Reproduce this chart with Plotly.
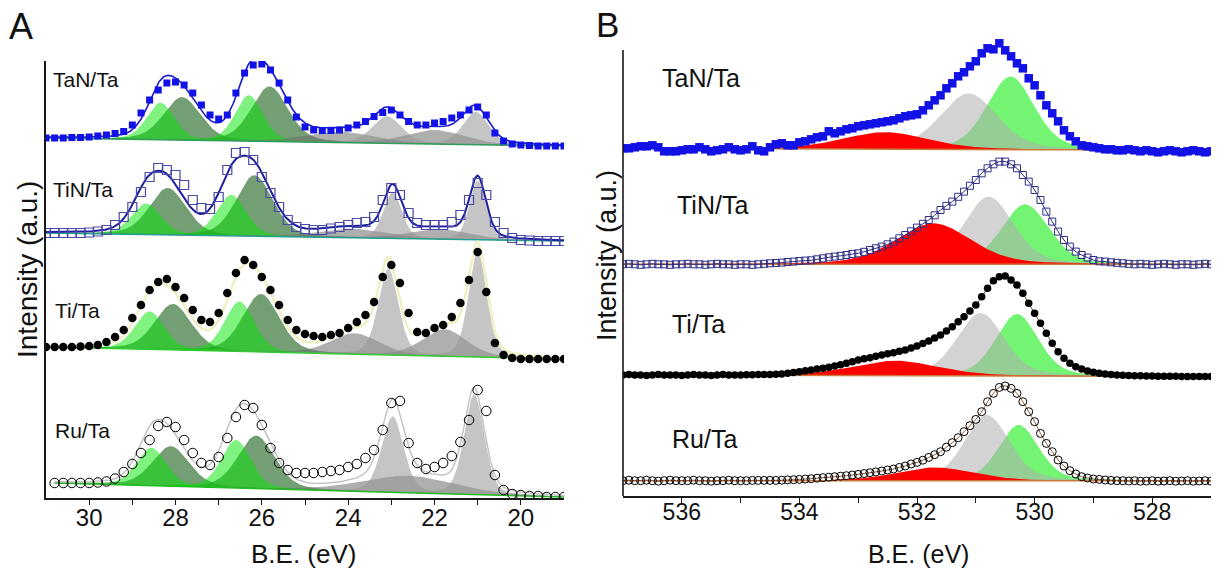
import numpy as np
import plotly.graph_objects as go

# ===================== DATA =====================
# Panel A : binding energy grid (eV) and measured intensities (a.u., relative to each trace's own left baseline)
A_BE = [31.0, 30.8, 30.6, 30.4, 30.2, 30.0, 29.8, 29.6, 29.4, 29.2,
        29.0, 28.8, 28.6, 28.4, 28.2, 28.0, 27.8, 27.6, 27.4, 27.2,
        27.0, 26.8, 26.6, 26.4, 26.2, 26.0, 25.8, 25.6, 25.4, 25.2,
        25.0, 24.8, 24.6, 24.4, 24.2, 24.0, 23.8, 23.6, 23.4, 23.2,
        23.0, 22.8, 22.6, 22.4, 22.2, 22.0, 21.8, 21.6, 21.4, 21.2,
        21.0, 20.8, 20.6, 20.4, 20.2, 20.0, 19.8, 19.6, 19.4, 19.2,
        19.0]

A_TAN = [0, 0, 0, 0.5, 0.5, 1, 2, 3, 4.5, 6.5,
         13, 25, 38, 48, 55, 56, 53, 45, 33, 23,
         19, 23, 45, 65, 73, 74, 68, 55, 38, 21,
         11, 8, 7.5, 7.5, 8, 10, 13, 16.5, 21.5, 25.5,
         28, 23, 16.5, 13, 13, 15, 16.5, 20, 23, 28,
         31, 23, 5, -3, -6, -7, -7.5, -8, -8, -8,
         -8]
A_TIN = [0, 0, 0, 0, 0, 0.5, 1.5, 3, 8, 16,
         26, 41, 56, 65, 63, 58, 48, 33, 25, 24,
         36, 63, 80, 81, 73, 56, 40, 26, 13, 6,
         4, 3, 3, 4.5, 6, 8, 10, 11, 16, 33,
         45, 38, 20, 10, 8, 8, 8, 11, 18, 33,
         50, 38, 11, 0, -5, -7, -7.5, -8, -8, -8,
         -8]
A_TI = [0, 0, 0, 0, 0.5, 1, 2, 5, 10, 17,
        29, 42, 57, 65, 68, 60, 49, 37, 27, 25,
        34, 54, 74, 87, 82, 70, 57, 42, 27, 17,
        13, 11, 10, 12, 14, 19, 25, 32, 45, 70,
        82, 64, 34, 15, 14, 19, 22, 30, 44, 67,
        95, 55, 4, -8, -11, -12, -12, -12, -12, -12,
        -12]
A_RU = [None, 0, 0, 0, 0, 0, 0.5, 1.5, 4.5, 11,
        19, 30, 43, 57, 61, 56, 43, 30, 20, 18,
        26, 45, 66, 78, 75, 58, 35, 20, 13, 10,
        10, 10, 11, 12, 13, 16, 19, 25, 33, 53,
        80, 82, 40, 20, 14, 16, 20, 27, 41, 63,
        93, 72, 8, -7, -11, -12, -13, -13, -14, -14,
        -14]

A_SAMPLES = ["TaN/Ta", "TiN/Ta", "Ti/Ta", "Ru/Ta"]
A_OFFSET = [360, 265, 151, 15]          # vertical stacking offsets (a.u.)
A_BG_DROP = [8, 8, 12, 14]              # linear background decrease across the scan (a.u.)

# fitted components: [kind, centre (eV), height (a.u.), FWHM (eV)]
A_TAN_PEAKS = [["dark", 27.85, 43, 1.0], ["dark", 25.82, 55, 1.0],
               ["light", 28.35, 37, 0.75], ["light", 26.30, 46, 0.75],
               ["dgray", 24.2, 11, 1.8], ["dgray", 22.0, 14, 1.6],
               ["lgray", 23.1, 27, 0.8], ["lgray", 21.05, 33, 0.7]]
A_TIN_PEAKS = [["dark", 28.18, 47, 1.0], ["dark", 26.17, 61, 1.0],
               ["light", 28.68, 31, 0.8], ["light", 26.71, 41, 0.8],
               ["dgray", 23.9, 9, 1.8], ["dgray", 21.9, 10, 1.6],
               ["lgray", 22.97, 46, 0.5], ["lgray", 21.0, 59, 0.45]]
A_TI_PEAKS = [["dark", 28.06, 46, 1.0], ["dark", 26.02, 58, 1.0],
              ["light", 28.60, 38, 0.8], ["light", 26.52, 50, 0.8],
              ["dgray", 23.85, 21, 1.3], ["dgray", 21.77, 27, 1.2],
              ["lgray", 23.07, 86, 0.55], ["lgray", 21.0, 105, 0.5]]
A_RU_PEAKS = [["dark", 28.11, 40, 1.0], ["dark", 26.13, 53, 1.0],
              ["light", 28.56, 38, 0.8], ["light", 26.60, 48, 0.8],
              ["dgray", 22.62, 17, 2.5],
              ["lgray", 22.97, 76, 0.6], ["lgray", 21.08, 100, 0.55]]

# Panel B : O 1s region
B_BE = [537.0, 536.9, 536.8, 536.7, 536.6, 536.5, 536.4, 536.3, 536.2, 536.1,
        536.0, 535.9, 535.8, 535.7, 535.6, 535.5, 535.4, 535.3, 535.2, 535.1,
        535.0, 534.9, 534.8, 534.7, 534.6, 534.5, 534.4, 534.3, 534.2, 534.1,
        534.0, 533.9, 533.8, 533.7, 533.6, 533.5, 533.4, 533.3, 533.2, 533.1,
        533.0, 532.9, 532.8, 532.7, 532.6, 532.5, 532.4, 532.3, 532.2, 532.1,
        532.0, 531.9, 531.8, 531.7, 531.6, 531.5, 531.4, 531.3, 531.2, 531.1,
        531.0, 530.9, 530.8, 530.7, 530.6, 530.5, 530.4, 530.3, 530.2, 530.1,
        530.0, 529.9, 529.8, 529.7, 529.6, 529.5, 529.4, 529.3, 529.2, 529.1,
        529.0, 528.9, 528.8, 528.7, 528.6, 528.5, 528.4, 528.3, 528.2, 528.1,
        528.0, 527.9, 527.8, 527.7, 527.6, 527.5, 527.4, 527.3, 527.2, 527.1,
        527.0]

B_TAN = [0, 0, 1, 2, 2, 3, 1, -3, -3, -3,
         -2, -1, -1, 1, -1, -3, -2, -1, 1, -1,
         -2, -1, 2, -2, -3, 1, 4, 5, 3, 3,
         6, 7, 9, 11, 12, 17, 15, 17, 19, 20,
         22, 23, 24, 25, 26, 27, 28, 30, 32, 33,
         34, 38, 43, 48, 53, 60, 65, 72, 76, 82,
         87, 95, 100, 99, 105, 98, 92, 85, 80, 70,
         63, 53, 43, 35, 27, 18, 12, 7, 3, 2,
         1, 0, -1, -1, -2, -2, -1, -2, -3, -2,
         -3, -4, -3, -2, -3, -4, -3, -2, -3, -4,
         -3]
B_TIN = [0, 0.5, 0, -0.5, 0, 0.5, 0, 0, -0.5, 0,
         0, 0.5, 0, 0, -0.5, 0, 0.5, 0, 0, -0.5,
         0, 0, -0.5, 0, 0.5, 1, 1.3, 1.7, 2.3, 2.7,
         3.3, 3.7, 4, 5, 6, 7, 7.7, 8.5, 9.3, 10.3,
         11, 12.5, 14.3, 16, 17.7, 20, 22.7, 26, 29.3, 33,
         36.7, 40.5, 44.3, 49, 54.3, 58.5, 62.7, 67.5, 72.7, 78.5,
         84.3, 91, 96, 100, 102.7, 102.7, 100, 96, 89.3, 82.7,
         74.3, 64.3, 52.7, 42.7, 32.7, 24.3, 17.7, 12.7, 9.3, 6.7,
         4.3, 3, 2.7, 2, 1.5, 1, 0.5, 0, 0.5, 0,
         -0.5, 0, 0.5, 0, -0.5, 0, 0, -0.5, 0, 0.5,
         0]
B_TI = [0, 0.5, 0, 0, -0.5, 0, 0.5, 0, 0, 0,
        -0.5, 0, 0.5, 0, 0, -0.5, 0, 0.5, 0, 0,
        0, 0.3, 0.3, 0.5, 0.5, 0.5, 0.7, 1, 1.7, 2.5,
        3.3, 4.2, 5, 6, 6.7, 7.8, 9, 10.3, 11.7, 13.3,
        15, 16.2, 17.3, 18.7, 20, 21.2, 22.3, 23.7, 25, 27,
        29, 31.5, 34, 37, 40, 44, 48.3, 53.3, 58.3, 64,
        70, 78.3, 86.7, 94.3, 98.3, 99, 95, 90, 81.7, 71.7,
        61.7, 51.7, 41.7, 31.7, 23.3, 16.7, 11.7, 8.3, 6, 4,
        2.7, 1.7, 1, 0.5, 0, -0.3, -0.5, -0.7, -0.8, -1,
        -1, -1.2, -1.2, -1.3, -1.3, -1.4, -1.5, -1.5, -1.5, -1.6,
        -1.6]
B_RU = [0, 0.5, 0, 0, 0.5, 0, -0.5, 0, 0.5, 0,
        0, 0, 0.5, 0, 0, -0.5, 0, 0, 0.5, 0,
        0, 0, 0.3, 0.3, 0.3, 0.3, 0.3, 0.5, 0.8, 1,
        1.3, 1.7, 2, 2.5, 3, 3.5, 4, 4.5, 5, 5.7,
        6.3, 7.2, 8, 8.8, 9.7, 10.7, 11.7, 13.3, 14.7, 16.7,
        18.3, 20.5, 23.3, 26, 29, 33.5, 38, 43, 49, 55,
        61.3, 69, 79, 87.3, 93.3, 94.7, 92.3, 87.3, 79, 69,
        59, 47.3, 37.3, 29, 20.7, 14.7, 10, 6.7, 4, 2.7,
        1.7, 1.3, 0.7, 0.3, 0, 0, -0.3, 0, -0.5, -0.3,
        0, -0.5, -0.3, 0, -0.5, -0.3, 0, -0.5, -0.3, 0,
        -0.5]

B_SAMPLES = ["TaN/Ta", "TiN/Ta", "Ti/Ta", "Ru/Ta"]
B_OFFSET = [347.7, 231.7, 121, 15.3]
B_BG_DROP = [2, 0, 1.5, 0]

B_TAN_PEAKS = [["green", 530.41, 73, 0.95], ["gray", 531.12, 56, 1.15], ["red", 532.54, 17, 1.7]]
B_TIN_PEAKS = [["green", 530.16, 60, 0.95], ["gray", 530.78, 67.6, 1.0], ["red", 531.72, 41, 1.5]]
B_TI_PEAKS = [["green", 530.30, 62, 0.85], ["gray", 530.92, 63, 0.95], ["red", 532.37, 15, 1.7]]
B_RU_PEAKS = [["green", 530.27, 55.7, 0.8], ["gray", 530.81, 65.7, 0.9], ["red", 531.69, 13.3, 1.5]]

# ===================== STYLE =====================
W, H = 1217, 574
FONT = "Liberation Sans, Arial, Helvetica, sans-serif"


def px(x):
    return x / W


def py(y):
    return 1 - y / H


FILL = {
    "dark": "rgba(70,125,70,0.75)",
    "light": "rgba(0,230,0,0.5)",
    "dgray": "rgba(110,110,110,0.55)",
    "lgray": "rgba(150,150,150,0.55)",
    "green": "rgba(0,235,0,0.55)",
    "gray": "rgba(175,175,175,0.55)",
    "red": "rgba(255,0,0,1)",
}

A_MARKERS = [
    dict(symbol="square", size=7, color="#1212e6"),
    dict(symbol="square-open", size=9, color="#4a4aa8", line=dict(width=1.2, color="#4a4aa8")),
    dict(symbol="circle", size=8.5, color="#000000"),
    dict(symbol="circle-open", size=9.5, color="#000000", line=dict(width=1, color="#000000")),
]
A_FITLINE = [dict(color="#1c1cc8", width=1.6), dict(color="#1f1fa0", width=2),
             dict(color="#f0f0c4", width=2.5), dict(color="#c4c4c4", width=1.5)]
A_BASELINE = ["#2e9e5a", "#22a090", "#33cc33", "#22bb22"]

B_MARKERS = [
    dict(symbol="square", size=8.5, color="#1212e6"),
    dict(symbol="square-open", size=7, color="#303088", line=dict(width=1, color="#303088")),
    dict(symbol="circle", size=7.5, color="#000000"),
    dict(symbol="circle-open", size=8, color="#000000", line=dict(width=1, color="#000000")),
]
B_FITLINE = ["#b06a8a", "#2b2b7a", "#6a4a2a", "#8a5a3a"]


def pv(x, c, h, w, eta=0.3):
    u = (x - c) / w
    return h * ((1 - eta) * np.exp(-4 * np.log(2) * u ** 2) + eta / (1 + 4 * u ** 2))


fig = go.Figure()


def add_spectrum(be, vals, offset, drop, peaks, xa, ya, x_end, marker, fitline, basecol, data_line=None, eta=0.3):
    be = np.array(be, dtype=float)
    valid = [i for i, v in enumerate(vals) if v is not None]
    x0 = be[valid[0]]
    grid = np.linspace(x0, x_end, 801)
    bg = offset - drop * (x0 - grid) / (x0 - x_end)
    total = np.zeros_like(grid)
    for kind, c, h, w in peaks:
        comp = pv(grid, c, h, w, eta)
        total += comp
        xs = np.concatenate([grid, grid[::-1]])
        ys = np.concatenate([bg + comp, bg[::-1]])
        fig.add_trace(go.Scatter(x=xs, y=ys, mode="lines", fill="toself", fillcolor=FILL[kind],
                                 line=dict(width=0), xaxis=xa, yaxis=ya, hoverinfo="skip"))
    fig.add_trace(go.Scatter(x=grid, y=bg, mode="lines", line=dict(color=basecol, width=1.5),
                             xaxis=xa, yaxis=ya, hoverinfo="skip"))
    yd = [None if v is None else offset + v for v in vals]
    if data_line is None:
        fig.add_trace(go.Scatter(x=grid, y=bg + total, mode="lines", line=fitline,
                                 xaxis=xa, yaxis=ya, hoverinfo="skip"))
    else:
        fig.add_trace(go.Scatter(x=be, y=yd, mode="lines", line=dict(color=data_line, width=1, shape="spline"),
                                 xaxis=xa, yaxis=ya, hoverinfo="skip"))
    fig.add_trace(go.Scatter(x=be, y=yd, mode="markers", marker=marker, xaxis=xa, yaxis=ya))


A_DATA = [A_TAN, A_TIN, A_TI, A_RU]
A_PEAKS = [A_TAN_PEAKS, A_TIN_PEAKS, A_TI_PEAKS, A_RU_PEAKS]
for i in range(4):
    add_spectrum(A_BE, A_DATA[i], A_OFFSET[i], A_BG_DROP[i], A_PEAKS[i], "x", "y", 19.0,
                 A_MARKERS[i], A_FITLINE[i], A_BASELINE[i])

B_DATA = [B_TAN, B_TIN, B_TI, B_RU]
B_PEAKS = [B_TAN_PEAKS, B_TIN_PEAKS, B_TI_PEAKS, B_RU_PEAKS]
for i in range(4):
    add_spectrum(B_BE, B_DATA[i], B_OFFSET[i], B_BG_DROP[i], B_PEAKS[i], "x2", "y2", 527.0,
                 B_MARKERS[i], None, "#cc7a3a", data_line=B_FITLINE[i])

axis_common = dict(showgrid=False, zeroline=False, showline=True, linecolor="#1a1a1a", linewidth=1.6,
                   ticks="outside", ticklen=5, tickwidth=1.2, tickcolor="#1a1a1a")

# panel B plot area reaches a little above its drawn y-axis line so the tallest points are not clipped
B_TOP_AXIS, B_TOP_AREA, B_BOTTOM = 50, 35, 496

fig.update_layout(
    width=W, height=H, margin=dict(l=0, r=0, t=0, b=0),
    paper_bgcolor="white", plot_bgcolor="rgba(0,0,0,0)", showlegend=False,
    font=dict(family=FONT, color="#111111"),
    xaxis=dict(domain=[px(46), px(564)], range=[31, 19], anchor="y",
               tickvals=[30, 28, 26, 24, 22, 20], tickfont=dict(size=24, family=FONT, color="#111"),
               ticklabelstandoff=-8,
               minor=dict(tickvals=[29, 27, 25, 23, 21], ticks="outside", ticklen=5, tickcolor="#1a1a1a"),
               **axis_common),
    yaxis=dict(domain=[py(498), py(61)], range=[0, 437], anchor="x", showticklabels=False,
               showgrid=False, zeroline=False, showline=True, linecolor="#1a1a1a", linewidth=1.6, ticks=""),
    xaxis2=dict(domain=[px(623), px(1211)], range=[537, 527], anchor="y2",
                tickvals=[536, 534, 532, 530, 528], tickfont=dict(size=23, family=FONT, color="#111"),
                ticklabelstandoff=-10,
                minor=dict(tickvals=[535, 533, 531, 529], ticks="outside", ticklen=5, tickcolor="#1a1a1a"),
                **axis_common),
    yaxis2=dict(domain=[py(B_BOTTOM), py(B_TOP_AREA)], range=[0, B_BOTTOM - B_TOP_AREA], anchor="x2",
                showticklabels=False, showgrid=False, zeroline=False, showline=False, ticks=""),
    shapes=[dict(type="line", xref="paper", yref="paper", x0=px(623), x1=px(623),
                 y0=py(B_BOTTOM), y1=py(B_TOP_AXIS), line=dict(color="#1a1a1a", width=1.6))],
)

ann = []


def text(t, x, y, size, xanchor="center", angle=0):
    ann.append(dict(text=t, x=px(x), y=py(y), xref="paper", yref="paper", showarrow=False,
                    xanchor=xanchor, yanchor="middle", textangle=angle,
                    font=dict(size=size, family=FONT, color="#111111")))


text("A", 21, 27, 36)
text("B", 607, 25, 35)
text("Intensity (a.u.)", 27, 270, 28, angle=-90)
text("Intensity (a.u.)", 607, 256, 27, angle=-90)
text("B.E. (eV)", 303, 554, 26)
text("B.E. (eV)", 918, 554, 25)

A_LABEL_POS = [(51, 80), (51, 189.5), (53, 310.5), (53, 430)]
for lab, (x, y) in zip(A_SAMPLES, A_LABEL_POS):
    text(lab, x, y, 21, xanchor="left")
B_LABEL_POS = [(660, 78.5), (675, 204.5), (670, 323.5), (670, 438.5)]
for lab, (x, y) in zip(B_SAMPLES, B_LABEL_POS):
    text(lab, x, y, 25, xanchor="left")

fig.update_layout(annotations=ann)
fig.write_html("out.html")
